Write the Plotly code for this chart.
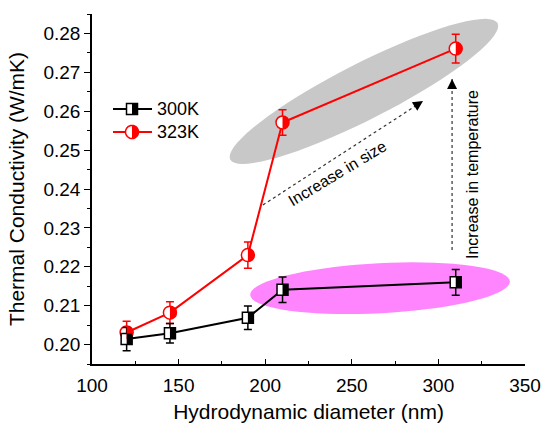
import math
import plotly.graph_objects as go

# Hydrodynamic diameter (nm) and thermal conductivity (W/mK)
diameter = [120, 145, 190, 210, 310]
k_300 = [0.2014, 0.2029, 0.2069, 0.2141, 0.2160]
err_300 = [0.0030, 0.0025, 0.0030, 0.0033, 0.0033]
k_323 = [0.2031, 0.2082, 0.2230, 0.2571, 0.2761]
err_323 = [0.0029, 0.0028, 0.0034, 0.0033, 0.0037]

series_names = ["300K", "323K"]
x_ticks = [100, 150, 200, 250, 300, 350]
y_ticks = [0.20, 0.21, 0.22, 0.23, 0.24, 0.25, 0.26, 0.27, 0.28]

FONT = "Liberation Sans, Arial, sans-serif"
RED = "#FF0000"
BLACK = "#000000"

SQ = 11      # square marker size (px)
CIR = 13     # circle marker size (px)


def path_of(points, close=True):
    s = "M " + " L ".join(f"{x:.2f},{y:.2f}" for x, y in points)
    return s + (" Z" if close else "")


def half_square(h):
    return [(0, -h), (h, -h), (h, h), (0, h)]


def full_square(h):
    return [(-h, -h), (h, -h), (h, h), (-h, h)]


def half_circle(r, n=20):
    return [(r * math.cos(math.radians(-90 + 180 * i / n)),
             r * math.sin(math.radians(-90 + 180 * i / n))) for i in range(n + 1)]


def full_circle(r, n=40):
    return [(r * math.cos(2 * math.pi * i / n), r * math.sin(2 * math.pi * i / n)) for i in range(n)]


def ellipse(a, b, angle_deg, n=72):
    t = math.radians(angle_deg)
    pts = []
    for i in range(n):
        u = 2 * math.pi * i / n
        x, y = a * math.cos(u), b * math.sin(u)
        pts.append((x * math.cos(t) - y * math.sin(t), x * math.sin(t) + y * math.cos(t)))
    return pts


def arrow_head(angle_deg, length=10, half_w=5):
    t = math.radians(angle_deg)
    ux, uy = math.cos(t), math.sin(t)
    px, py = -uy, ux
    return [(0, 0),
            (-length * ux + half_w * px, -length * uy + half_w * py),
            (-length * ux - half_w * px, -length * uy - half_w * py)]


def pixel_shape(xa, ya, pts, fill, line_color=None, line_w=0, layer="above", ref=("x", "y")):
    return dict(type="path", xref=ref[0], yref=ref[1], xsizemode="pixel", ysizemode="pixel",
                xanchor=xa, yanchor=ya, path=path_of(pts), fillcolor=fill,
                line=dict(color=line_color or fill, width=line_w), layer=layer)


fig = go.Figure()

fig.add_trace(go.Scatter(
    x=diameter, y=k_323, mode="lines+markers", name=series_names[1],
    line=dict(color=RED, width=2),
    marker=dict(symbol="circle", size=CIR, color="white", line=dict(color=RED, width=1.5)),
    error_y=dict(type="data", array=err_323, color=RED, thickness=1.5, width=4),
    showlegend=False))

fig.add_trace(go.Scatter(
    x=diameter, y=k_300, mode="lines+markers", name=series_names[0],
    line=dict(color=BLACK, width=2),
    marker=dict(symbol="square", size=SQ, color="white", line=dict(color=BLACK, width=1.5)),
    error_y=dict(type="data", array=err_300, color=BLACK, thickness=1.5, width=4),
    showlegend=False))

shapes = []

# highlighted regions
shapes.append(pixel_shape(257, 0.2651, ellipse(150, 28, 27), "#C8C8C8", layer="below"))
shapes.append(pixel_shape(266.3, 0.2145, ellipse(130, 25, 3), "#FF85FF", layer="below"))

# half-filled markers
for xv, yv in zip(diameter, k_323):
    shapes.append(pixel_shape(xv, yv, half_circle(CIR / 2), RED))
for xv, yv in zip(diameter, k_300):
    shapes.append(pixel_shape(xv, yv, half_square(SQ / 2), BLACK))

# dotted arrows
size_arrow = ((198.7, 0.2359), (291.1, 0.2626))
temp_arrow = ((307.9, 0.2243), (307.9, 0.2683))
for (x0, y0), (x1, y1) in (size_arrow, temp_arrow):
    shapes.append(dict(type="line", xref="x", yref="y", x0=x0, y0=y0, x1=x1, y1=y1,
                       line=dict(color="#333333", width=1.2, dash="dot"), layer="above"))
shapes.append(pixel_shape(size_arrow[1][0], size_arrow[1][1], arrow_head(33), BLACK))
shapes.append(pixel_shape(temp_arrow[1][0], temp_arrow[1][1], arrow_head(90), BLACK))

# legend
leg_y = [0.7286, 0.6629]
leg_x0, leg_x1, leg_xm = 0.0485, 0.1386, 0.0924
for i, (name, col) in enumerate(zip(series_names, [BLACK, RED])):
    shapes.append(dict(type="line", xref="paper", yref="paper", x0=leg_x0, x1=leg_x1,
                       y0=leg_y[i], y1=leg_y[i], line=dict(color=col, width=2)))
    if i == 0:
        shapes.append(pixel_shape(leg_xm, leg_y[i], full_square(SQ / 2), "white", BLACK, 1.5,
                                  ref=("paper", "paper")))
        shapes.append(pixel_shape(leg_xm, leg_y[i], half_square(SQ / 2), BLACK, ref=("paper", "paper")))
    else:
        shapes.append(pixel_shape(leg_xm, leg_y[i], full_circle(CIR / 2), "white", RED, 1.5,
                                  ref=("paper", "paper")))
        shapes.append(pixel_shape(leg_xm, leg_y[i], half_circle(CIR / 2), RED, ref=("paper", "paper")))

annotations = [
    dict(x=0.1455, y=leg_y[i], xref="paper", yref="paper", text=name, showarrow=False,
         xanchor="left", yanchor="middle", font=dict(size=18, color=BLACK, family=FONT))
    for i, name in enumerate(series_names)
]
annotations.append(dict(x=241.5, y=0.2439, xref="x", yref="y", text="Increase in size",
                        showarrow=False, textangle=-31, font=dict(size=16, color=BLACK, family=FONT)))
annotations.append(dict(x=319.4, y=0.2436, xref="x", yref="y", text="Increase in temperature",
                        showarrow=False, textangle=-90, font=dict(size=16, color=BLACK, family=FONT)))

fig.update_layout(
    width=541, height=423,
    margin=dict(l=92, r=16, t=14, b=59),
    paper_bgcolor="white", plot_bgcolor="white",
    font=dict(family=FONT, color=BLACK),
    shapes=shapes, annotations=annotations,
    showlegend=False,
)

fig.update_xaxes(
    range=[100, 350], tickvals=x_ticks, showgrid=False, zeroline=False, automargin=False,
    showline=True, linecolor=BLACK, linewidth=1.5,
    ticks="inside", ticklen=5, tickwidth=1.2, tickcolor=BLACK,
    minor=dict(ticks="inside", ticklen=3, dtick=25, tickcolor=BLACK, tickwidth=1.2),
    tickfont=dict(size=19, family=FONT), ticklabelstandoff=3,
    title=dict(text="Hydrodynamic diameter (nm)", font=dict(size=21, family=FONT), standoff=15),
)
fig.update_yaxes(
    range=[0.195, 0.285], tickvals=y_ticks, tickformat=".2f", showgrid=False, zeroline=False,
    automargin=False,
    showline=True, linecolor=BLACK, linewidth=1.5,
    ticks="outside", ticklen=6, tickwidth=1.2, tickcolor=BLACK,
    minor=dict(ticks="outside", ticklen=3, dtick=0.005, tickcolor=BLACK, tickwidth=1.2),
    tickfont=dict(size=19, family=FONT),
    title=dict(text="Thermal Conductivity (W/mK)", font=dict(size=21, family=FONT), standoff=13),
)

fig.write_html("out.html")
